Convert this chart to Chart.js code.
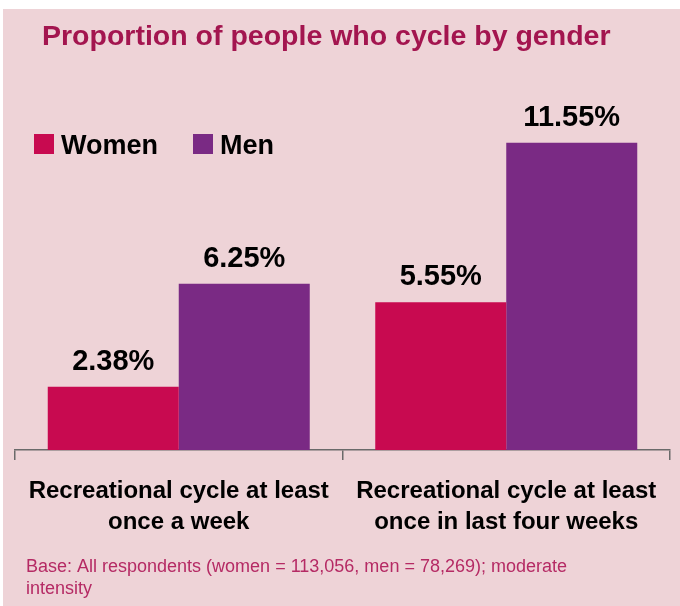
<!DOCTYPE html>
<html>
<head>
<meta charset="utf-8">
<script src="https://cdn.jsdelivr.net/npm/chart.js@4"></script>
<style>
  html, body { margin: 0; padding: 0; background: #ffffff; }
  #panel { position: absolute; left: 3px; top: 9px; width: 677px; height: 597px; background: #eed3d7; }
  #grafico { position: absolute; left: 0; top: 0; }
</style>
</head>
<body>
<div id="panel"></div>
<canvas id="grafico" width="680" height="606"></canvas>
<script>
// --- DATOS DEL GRAFICO ---
const categorias = [
    ['Recreational cycle at least', 'once a week'],
    ['Recreational cycle at least', 'once in last four weeks']
];
const valoresMujeres = [2.38, 5.55];
const valoresHombres = [6.25, 11.55];
const nombresSeries = ['Women', 'Men'];
const titulo = 'Proportion of people who cycle by gender';
const notaPie = ['Base: All respondents (women = 113,056, men = 78,269); moderate', 'intensity'];

const FUENTE = "'Liberation Sans', Arial, sans-serif";
const colorMujeres = '#c80a50';
const colorHombres = '#7a2a84';

// Etiquetas de valor encima de cada barra
const etiquetasValor = {
    id: 'etiquetasValor',
    afterDatasetsDraw(chart) {
        const ctx = chart.ctx;
        ctx.save();
        ctx.fillStyle = '#000';
        ctx.font = 'bold 29px ' + FUENTE;
        ctx.textAlign = 'center';
        ctx.textBaseline = 'alphabetic';
        chart.data.datasets.forEach((ds, i) => {
            chart.getDatasetMeta(i).data.forEach((barra, j) => {
                ctx.fillText(ds.data[j].toFixed(2) + '%', barra.x, barra.y - 17);
            });
        });
        ctx.restore();
    }
};

// Titulo, leyenda y nota al pie
const decoracion = {
    id: 'decoracion',
    afterDraw(chart) {
        const ctx = chart.ctx;
        ctx.save();
        ctx.textBaseline = 'alphabetic';
        ctx.textAlign = 'left';

        ctx.fillStyle = '#a3154f';
        ctx.font = 'bold 28.5px ' + FUENTE;
        ctx.fillText(titulo, 42, 45);

        // leyenda
        const posLeyenda = [34, 193];
        ctx.font = 'bold 27px ' + FUENTE;
        chart.data.datasets.forEach((ds, i) => {
            const x = posLeyenda[i];
            ctx.fillStyle = ds.backgroundColor;
            ctx.fillRect(x, 134, 20, 20);
            ctx.fillStyle = '#000';
            ctx.fillText(ds.label, x + 27, 154);
        });

        ctx.fillStyle = '#b52a64';
        ctx.font = '18px ' + FUENTE;
        notaPie.forEach((linea, i) => ctx.fillText(linea, 26, 572 + i * 22));
        ctx.restore();
    }
};

const ctx = document.getElementById('grafico').getContext('2d');
const miGrafico = new Chart(ctx, {
    type: 'bar',
    data: {
        labels: categorias,
        datasets: [
            { label: nombresSeries[0], data: valoresMujeres, backgroundColor: colorMujeres, borderWidth: 0 },
            { label: nombresSeries[1], data: valoresHombres, backgroundColor: colorHombres, borderWidth: 0 }
        ]
    },
    options: {
        responsive: false,
        animation: false,
        layout: { padding: { top: 51, left: 15, right: 10, bottom: 0 } },
        datasets: { bar: { categoryPercentage: 0.8, barPercentage: 1.0 } },
        plugins: {
            legend: { display: false },
            title: { display: false },
            tooltip: { enabled: false }
        },
        scales: {
            x: {
                offset: true,
                grid: { display: true, drawOnChartArea: false, drawTicks: true, tickLength: 10, color: '#6a6a6a', lineWidth: 1.5, offset: true },
                border: { display: true, color: '#6a6a6a', width: 1.5 },
                ticks: {
                    color: '#000',
                    padding: 16,
                    maxRotation: 0,
                    autoSkip: false,
                    font: { family: FUENTE, size: 24, weight: 'bold', lineHeight: 1.3 }
                },
                afterFit: (escala) => { escala.height = 156; }
            },
            y: { display: false, min: 0, max: 15 }
        }
    },
    plugins: [etiquetasValor, decoracion]
});
</script>
</body>
</html>
